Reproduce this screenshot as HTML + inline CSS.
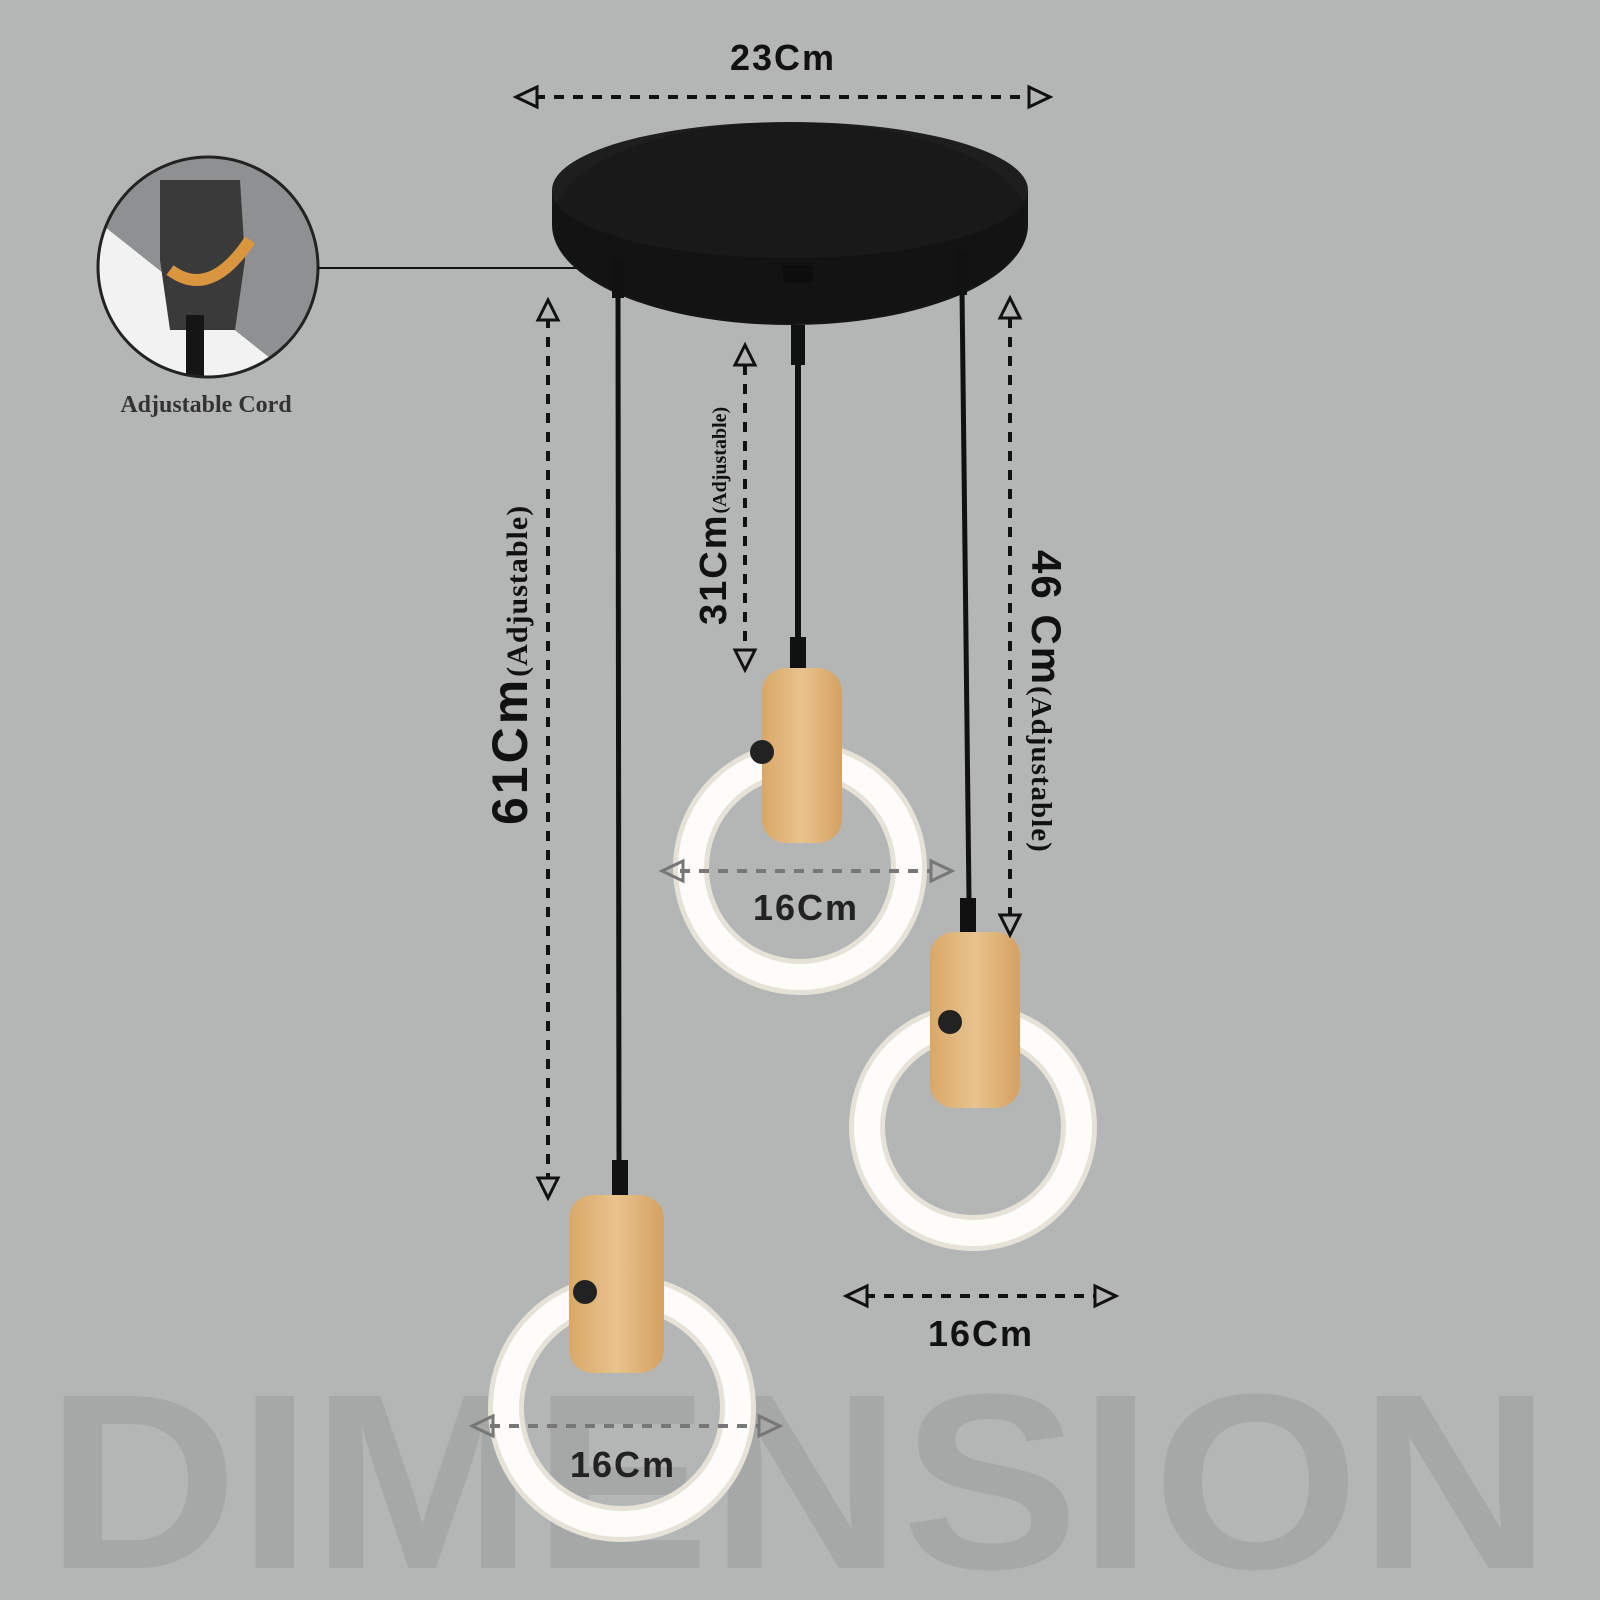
<!DOCTYPE html>
<html><head><style>
html,body{margin:0;padding:0;background:#b4b5b5;}
svg{display:block}
</style></head><body>
<svg width="1600" height="1600" viewBox="0 0 1600 1600" xmlns="http://www.w3.org/2000/svg">
<defs>
<clipPath id="cc"><circle cx="208" cy="267" r="110"/></clipPath>
<linearGradient id="wood" x1="0" x2="1"><stop offset="0" stop-color="#d9a867"/><stop offset="0.5" stop-color="#e8c38d"/><stop offset="1" stop-color="#d4a161"/></linearGradient>
</defs>
<rect width="1600" height="1600" fill="#b4b5b5"/>
<text x="46" y="1568" font-family="Liberation Sans, sans-serif" font-weight="bold" font-size="250" fill="#a6a7a7" textLength="1505" lengthAdjust="spacingAndGlyphs">DIMENSION</text>

<!-- inset circle -->
<g clip-path="url(#cc)">
<rect x="90" y="150" width="240" height="240" fill="#8f9091"/>
<polygon points="90,215 285,370 90,390" fill="#f2f2f2"/>
<polygon points="160,180 240,180 245,260 235,330 170,330 160,260" fill="#3a3a3a"/>
<path d="M170,270 Q210,300 250,240" stroke="#d9963f" stroke-width="12" fill="none"/>
<rect x="186" y="315" width="18" height="80" fill="#151515"/>
</g>
<circle cx="208" cy="267" r="110" fill="none" stroke="#222" stroke-width="3"/>
<line x1="318" y1="268" x2="600" y2="268" stroke="#111" stroke-width="2"/>
<text x="206" y="412" text-anchor="middle" font-family="Liberation Serif, serif" font-weight="bold" font-size="24" fill="#333">Adjustable Cord</text>

<!-- canopy -->
<path d="M552,190 L552,225 A238,100 0 0 0 1028,225 L1028,190 Z" fill="#151515"/>
<ellipse cx="790" cy="190" rx="238" ry="68" fill="#1e1e1e"/>
<ellipse cx="790" cy="222" rx="238" ry="100" fill="#111" opacity="0.3"/>

<!-- cords -->
<rect x="612" y="258" width="12" height="40" fill="#111"/>
<line x1="618" y1="290" x2="619" y2="1165" stroke="#111" stroke-width="5"/>
<rect x="783" y="265" width="30" height="18" rx="4" fill="#0d0d0d"/>
<rect x="791" y="325" width="14" height="40" fill="#111"/>
<line x1="798" y1="360" x2="798" y2="640" stroke="#111" stroke-width="6"/>
<rect x="955" y="250" width="12" height="45" fill="#111"/>
<line x1="962" y1="290" x2="969" y2="900" stroke="#111" stroke-width="5"/>
<rect x="612" y="1160" width="16" height="35" fill="#111"/>
<rect x="790" y="637" width="16" height="35" fill="#111"/>
<rect x="960" y="898" width="16" height="35" fill="#111"/>

<!-- rings -->
<g fill="none" stroke="#e6e2d8" stroke-width="36">
<circle cx="800" cy="868" r="109"/>
<circle cx="973" cy="1127" r="106"/>
<circle cx="622" cy="1408" r="116"/>
</g>
<g fill="none" stroke="#fdfcf8" stroke-width="26">
<circle cx="800" cy="868" r="109"/>
<circle cx="973" cy="1127" r="106"/>
<circle cx="622" cy="1408" r="116"/>
</g>

<!-- wood blocks -->
<rect x="762" y="668" width="80" height="175" rx="24" fill="url(#wood)"/>
<rect x="930" y="932" width="90" height="176" rx="24" fill="url(#wood)"/>
<rect x="569" y="1195" width="95" height="178" rx="24" fill="url(#wood)"/>
<circle cx="762" cy="752" r="12" fill="#222"/>
<circle cx="950" cy="1022" r="12" fill="#222"/>
<circle cx="585" cy="1292" r="12" fill="#222"/>

<!-- dimension lines -->
<g stroke="#111" stroke-width="4" stroke-dasharray="10,9" fill="none">
<line x1="535" y1="97" x2="1035" y2="97"/>
<line x1="548" y1="318" x2="548" y2="1180"/>
<line x1="745" y1="365" x2="745" y2="650"/>
<line x1="1010" y1="318" x2="1010" y2="915"/>
<line x1="865" y1="1296" x2="1098" y2="1296"/>
</g>
<g stroke="#777" stroke-width="4" stroke-dasharray="10,9" fill="none">
<line x1="680" y1="871" x2="930" y2="871"/>
<line x1="490" y1="1426" x2="760" y2="1426"/>
</g>
<g stroke="#111" stroke-width="3" fill="#b4b5b5">
<polygon points="516,97 537,87 537,107"/><polygon points="1050,97 1029,87 1029,107"/>
<polygon points="548,300 538,320 558,320"/><polygon points="548,1198 538,1178 558,1178"/>
<polygon points="745,345 735,365 755,365"/><polygon points="745,670 735,650 755,650"/>
<polygon points="1010,298 1000,318 1020,318"/><polygon points="1010,935 1000,915 1020,915"/>
<polygon points="846,1296 867,1286 867,1306"/><polygon points="1116,1296 1095,1286 1095,1306"/>
</g>
<g stroke="#777" stroke-width="3" fill="none">
<polygon points="662,871 683,861 683,881"/><polygon points="952,871 931,861 931,881"/>
<polygon points="472,1426 493,1416 493,1436"/><polygon points="780,1426 759,1416 759,1436"/>
</g>

<g font-family="Liberation Sans, sans-serif" font-weight="bold" fill="#111">
<text x="783" y="70" text-anchor="middle" font-size="36" letter-spacing="2">23Cm</text>
<text x="806" y="920" text-anchor="middle" font-size="36" fill="#222" letter-spacing="2">16Cm</text>
<text x="981" y="1346" text-anchor="middle" font-size="36" letter-spacing="2">16Cm</text>
<text x="623" y="1477" text-anchor="middle" font-size="36" fill="#222" letter-spacing="2">16Cm</text>
<text transform="translate(527,825) rotate(-90)" font-size="50" letter-spacing="3">61Cm<tspan font-family="Liberation Serif, serif" font-size="30" letter-spacing="1">(Adjustable)</tspan></text>
<text transform="translate(726,625) rotate(-90)" font-size="38" letter-spacing="2">31Cm<tspan font-family="Liberation Serif, serif" font-size="20" letter-spacing="0">(Adjustable)</tspan></text>
<text transform="translate(1032,550) rotate(90)" font-size="42" letter-spacing="2">46 Cm<tspan font-family="Liberation Serif, serif" font-size="29" letter-spacing="1">(Adjustable)</tspan></text>
</g>
</svg>
</body></html>
